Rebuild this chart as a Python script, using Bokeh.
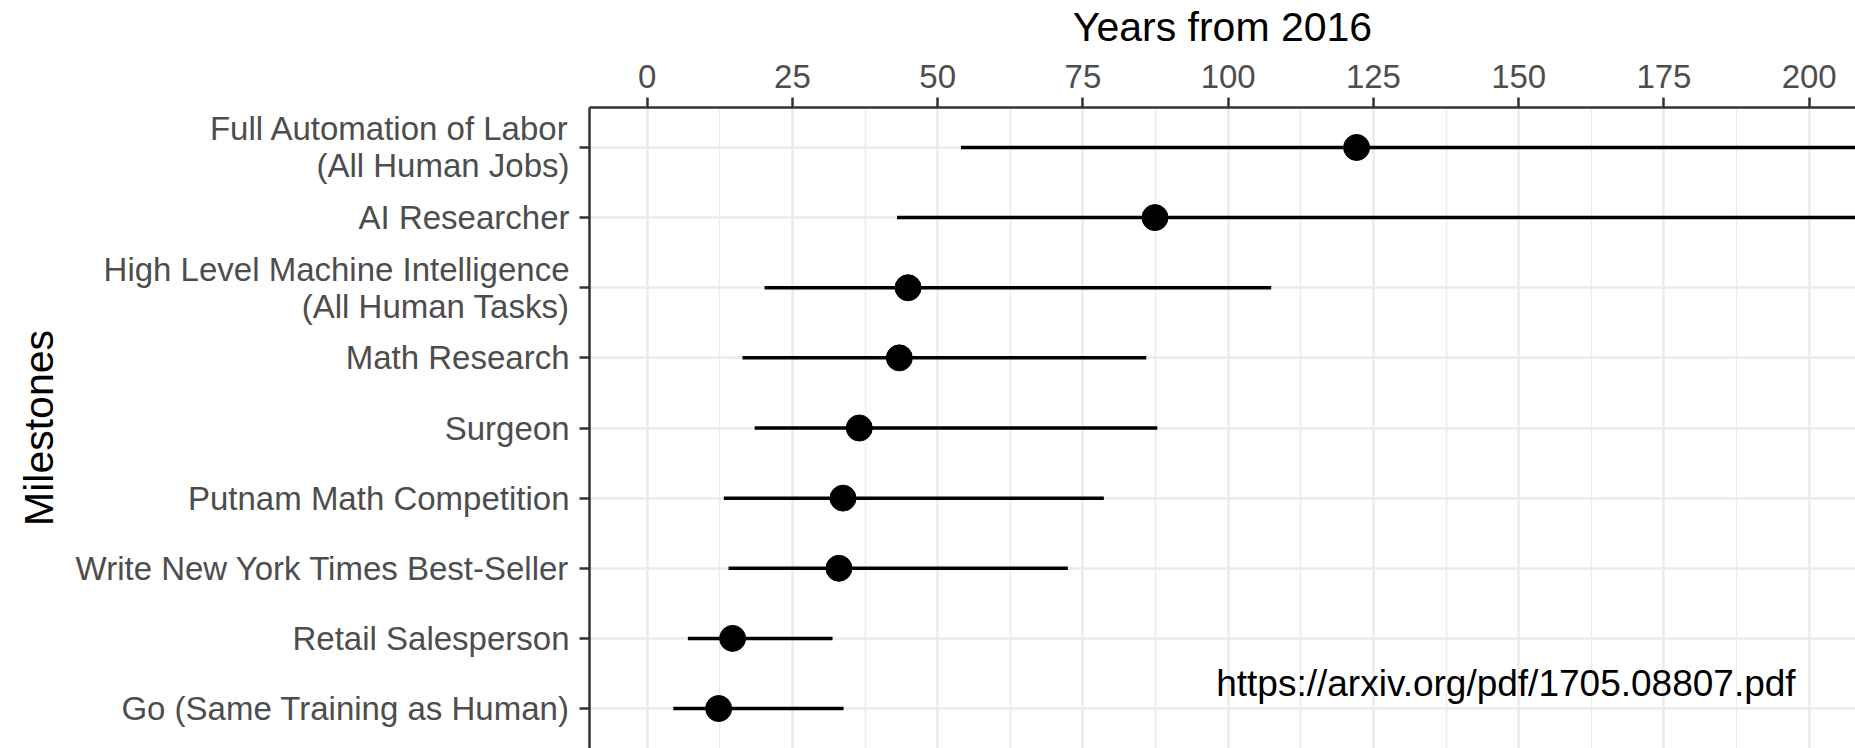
from bokeh.plotting import figure
from bokeh.models import Range1d, FixedTicker, Label, ColumnDataSource
from bokeh.embed import file_html
from bokeh.resources import INLINE

# ---- data (years from 2016), listed top to bottom ----
milestones = [
    "Full Automation of Labor\n(All Human Jobs)",
    "AI Researcher",
    "High Level Machine Intelligence\n(All Human Tasks)",
    "Math Research",
    "Surgeon",
    "Putnam Math Competition",
    "Write New York Times Best-Seller",
    "Retail Salesperson",
    "Go (Same Training as Human)",
]
low_years = [54.0, 43.0, 20.2, 16.4, 18.5, 13.2, 14.0, 7.0, 4.5]
median_years = [122.1, 87.4, 44.9, 43.4, 36.5, 33.7, 33.0, 14.7, 12.3]
high_years = [300.0, 300.0, 107.4, 85.9, 87.8, 78.6, 72.4, 31.9, 33.8]
x_ticks = [0, 25, 50, 75, 100, 125, 150, 175, 200]
x_minor_ticks = [12.5, 37.5, 62.5, 87.5, 112.5, 137.5, 162.5, 187.5]

source_note = "https://arxiv.org/pdf/1705.08807.pdf"

n = len(milestones)
row_pos = [n - i for i in range(n)]  # top row = n, bottom row = 1

src = ColumnDataSource(dict(y=row_pos, low=low_years, med=median_years, high=high_years))

FONT = "Liberation Sans"
BORDER = "#333333"
GRID = "#EBEBEB"
LABEL = "#4D4D4D"

p = figure(
    width=1855, height=748,
    x_range=Range1d(-9.93, 207.97),
    y_range=Range1d(0.43, 9.57),
    x_axis_location="above",
    output_backend="svg",
    toolbar_location=None,
    min_border_left=589, min_border_top=104,
    min_border_right=0, min_border_bottom=0,
)
p.outline_line_color = None
p.background_fill_color = "white"
p.border_fill_color = "white"

# grids
xt = FixedTicker(ticks=x_ticks, minor_ticks=x_minor_ticks)
yt = FixedTicker(ticks=row_pos, minor_ticks=[])
p.xaxis.ticker = xt
p.xgrid.ticker = xt
p.yaxis.ticker = yt
p.ygrid.ticker = yt
for g in (p.xgrid, p.ygrid):
    g.grid_line_color = GRID
    g.grid_line_width = 2.5
p.xgrid.minor_grid_line_color = GRID
p.xgrid.minor_grid_line_width = 1.4

# axes
for ax in (p.xaxis, p.yaxis):
    ax.axis_line_color = BORDER
    ax.axis_line_width = 2.5
    ax.major_tick_line_color = BORDER
    ax.major_tick_line_width = 2.5
    ax.major_tick_out = 10
    ax.major_tick_in = 0
    ax.minor_tick_line_color = None
    ax.major_label_text_font = FONT
    ax.major_label_text_font_size = "33px"
    ax.major_label_text_color = LABEL
    ax.axis_label_text_font = FONT
    ax.axis_label_text_font_size = "41px"
    ax.axis_label_text_font_style = "normal"
    ax.axis_label_text_color = "black"

p.xaxis.axis_label = "Years from 2016"
p.xaxis.major_label_standoff = 10
p.xaxis.axis_label_standoff = 12

p.yaxis.axis_label = "Milestones"
p.yaxis.major_label_standoff = 10
p.yaxis.axis_label_standoff = 11
p.yaxis.major_label_overrides = {y: lab for y, lab in zip(row_pos, milestones)}
p.yaxis.major_label_text_line_height = 1.0

# marks
p.segment(x0="low", y0="y", x1="high", y1="y", source=src, line_color="black", line_width=3.5)
p.scatter(x="med", y="y", source=src, size=26, fill_color="black", line_color="black")

note = Label(x=147.8, y=1.36, text=source_note, text_font=FONT, text_font_size="37px",
             text_color="black", text_align="center", text_baseline="middle")
p.add_layout(note)

open("out.html", "w").write(file_html(p, INLINE))
